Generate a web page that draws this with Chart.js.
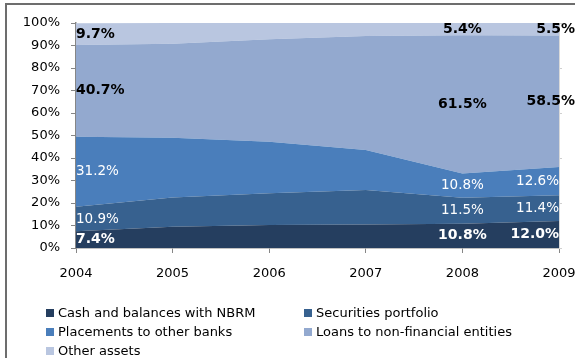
<!DOCTYPE html>
<html>
<head>
<meta charset="utf-8">
<script src="https://cdn.jsdelivr.net/npm/chart.js@4"></script>
<style>
  body { margin: 0; width: 575px; height: 358px; overflow: hidden; background: #fff; font-family: "DejaVu Sans", sans-serif; }
  #frame { position: absolute; left: 5px; top: 3px; width: 640px; height: 420px; border: 2px solid #6d6d6d; }
  #wrap { position: absolute; left: 0; top: 0; width: 575px; height: 358px; }
  #legend { position: absolute; left: 46px; top: 303px; display: grid; grid-template-columns: 258px auto; font-size: 13px; line-height: 19px; color: #000; }
  #legend span.box { display: inline-block; width: 8px; height: 8px; margin-right: 4px; vertical-align: 0px; }
</style>
</head>
<body>
<div id="frame"></div>
<div id="wrap"><canvas id="chart" width="575" height="358"></canvas></div>
<div id="legend"></div>
<script>
const years = ['2004', '2005', '2006', '2007', '2008', '2009'];
const cash = [7.4, 9.5, 10.2, 10.4, 10.8, 12.0];
const securities = [10.9, 13.0, 14.1, 15.4, 11.5, 11.4];
const placements = [31.2, 26.5, 22.9, 17.8, 10.8, 12.6];
const loans = [40.7, 41.8, 45.6, 50.6, 61.5, 58.5];
const other = [9.7, 9.2, 7.2, 5.8, 5.4, 5.5];
const seriesNames = ['Cash and balances with NBRM', 'Securities portfolio', 'Placements to other banks', 'Loans to non-financial entities', 'Other assets'];
const labelledYears = ['2004', '2008', '2009'];

const colors = ['#253e5f', '#37618f', '#4a7ebb', '#93a9cf', '#b9c6e0'];
const labelColors = ['#fff', '#fff', '#fff', '#000', '#000'];
const labelBold = [true, false, false, true, true];

const series = [cash, securities, placements, loans, other];

// 값 라벨: 각 띠의 가운데에 표시
const bandLabels = {
    id: 'bandLabels',
    afterDatasetsDraw(chart) {
        const c = chart.ctx;
        const y = chart.scales.y;
        const area = chart.chartArea;
        c.save();
        c.textBaseline = 'middle';
        c.textAlign = 'left';
        labelledYears.forEach(yr => {
            const j = years.indexOf(yr);
            let base = 0;
            series.forEach((s, i) => {
                const v = s[j];
                const mid = y.getPixelForValue(base + v / 2);
                base += v;
                const x = chart.getDatasetMeta(i).data[j].x;
                c.font = (labelBold[i] ? 'bold 14px' : '13.5px') + ' "DejaVu Sans"';
                const txt = v.toFixed(1) + '%';
                const w = c.measureText(txt).width;
                let left = x - w / 2;
                const limit = labelColors[i] === '#000' ? chart.width : area.right;
                if (left + w > limit) left = limit - w;
                if (left < area.left) left = area.left;
                c.fillStyle = labelColors[i];
                c.fillText(txt, left, mid);
            });
        });
        c.restore();
    }
};

Chart.defaults.font.family = '"DejaVu Sans", sans-serif';
Chart.defaults.color = '#000';

const chart = new Chart(document.getElementById('chart'), {
    type: 'line',
    data: {
        labels: years,
        datasets: series.map((s, i) => ({
            label: seriesNames[i],
            data: s,
            backgroundColor: colors[i],
            borderWidth: 0,
            pointRadius: 0,
            tension: 0,
            fill: i === 0 ? 'origin' : '-1'
        }))
    },
    options: {
        responsive: false,
        animation: false,
        layout: { padding: { left: 6, top: 23, right: 0, bottom: 0 } },
        plugins: { legend: { display: false }, tooltip: { enabled: false } },
        scales: {
            x: {
                offset: false,
                grid: { drawOnChartArea: false, drawTicks: true, tickLength: 5, color: '#868686' },
                border: { color: '#868686', width: 1.5 },
                ticks: { font: { size: 13 }, padding: 13, maxRotation: 0, autoSkip: false },
                afterFit(scale) {
                    scale.height = 110;
                    scale.paddingLeft = 0;
                    scale.paddingRight = 0;
                }
            },
            y: {
                stacked: true,
                min: 0,
                max: 100,
                grid: { drawOnChartArea: false, drawTicks: true, tickLength: 5, color: '#868686' },
                border: { color: '#868686', width: 1.5 },
                ticks: { stepSize: 10, font: { size: 13 }, padding: 11, callback: v => v + '%' },
                afterFit(scale) { scale.width = 70; }
            },
            y1: {
                position: 'right',
                min: 0,
                max: 100,
                grid: { drawOnChartArea: false, drawTicks: true, tickLength: 3, color: '#d0d0d0' },
                border: { color: '#d9d9d9', width: 1 },
                ticks: { display: false, stepSize: 20 },
                afterFit(scale) { scale.width = 16; }
            }
        }
    },
    plugins: [bandLabels]
});

// 범례는 HTML로 두 줄 배치
const legend = document.getElementById('legend');
seriesNames.forEach((name, i) => {
    const item = document.createElement('div');
    item.innerHTML = '<span class="box" style="background:' + colors[i] + '"></span>' + name;
    legend.appendChild(item);
});
</script>
</body>
</html>
